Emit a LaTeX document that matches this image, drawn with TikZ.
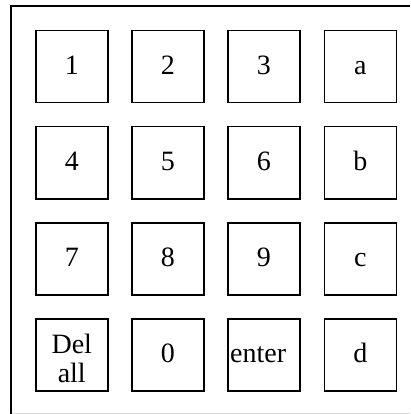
\documentclass[tikz,border=0pt]{standalone}
\usepackage{fontspec}
\setmainfont{Liberation Serif}
\begin{document}
\begin{tikzpicture}[x=1pt,y=-1pt,
  keybox/.style={draw=black, line width=1.5pt, minimum width=72pt, minimum height=72pt,
    inner sep=0pt, anchor=north west, font=\fontsize{28}{29}\selectfont},
  keyone/.style={keybox, text height=18pt, text depth=2pt},
  keytext/.style={inner sep=0pt, font=\fontsize{28}{29}\selectfont},
  frameline/.style={line width=2pt, black},
  frameedge/.style={line width=1pt, black!15}]
\useasboundingbox (0,0) rectangle (410,414);
% outer frame
\coordinate (fbl) at (11.3,414);
\coordinate (ftl) at (11.3,6.5);
\coordinate (ftr) at (410,6.5);
\coordinate (fbr) at (410,413.3);
\coordinate (fbl2) at (12,413.3);
\draw[frameline] (fbl) -- (ftl) -- (ftr);
\draw[frameedge] (fbl2) -- (fbr);
% row 1
\node[keyone] (k1) at (35,30) {1};
\node[keyone] (k2) at (131,30) {2};
\node[keyone] (k3) at (227,30) {3};
\node[keyone] (ka) at (323.5,30) {a};
% row 2
\node[keyone] (k4) at (35,126) {4};
\node[keyone] (k5) at (131,126) {5};
\node[keyone] (k6) at (227,126) {6};
\node[keyone] (kb) at (323.5,126) {b};
% row 3
\node[keyone] (k7) at (35,222) {7};
\node[keyone] (k8) at (131,222) {8};
\node[keyone] (k9) at (227,222) {9};
\node[keyone] (kc) at (323.5,222) {c};
% row 4
\node[keybox] (kdel) at (35,318) {};
\node[keytext, align=center] (tdel) at ([yshift=-3.5pt]kdel.center) {Del\\all};
\node[keyone] (k0) at (131,318) {0};
\node[keybox] (kenter) at (227,318) {};
\node[keytext, anchor=base west] (tenter) at ([xshift=3pt,yshift=-8pt]kenter.west) {enter};
\node[keyone] (kd) at (323.5,318) {d};
\end{tikzpicture}
\end{document}
